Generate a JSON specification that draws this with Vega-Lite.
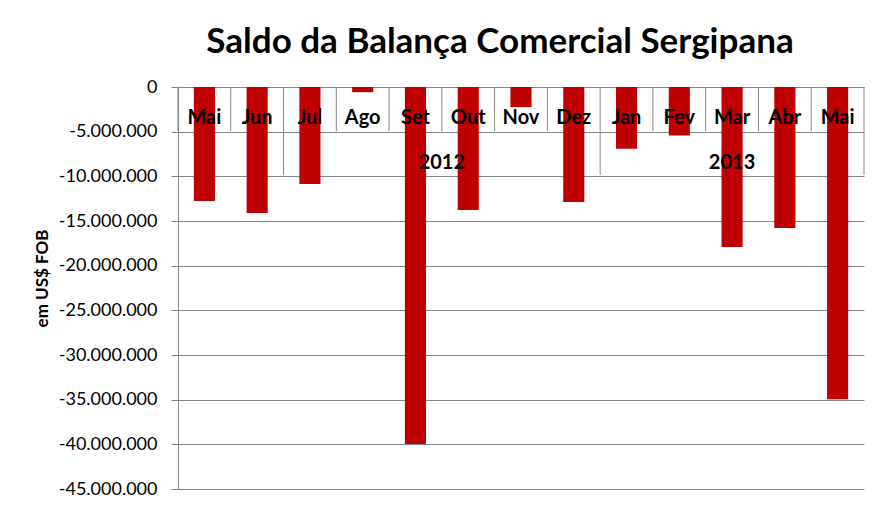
{
  "$schema": "https://vega.github.io/schema/vega-lite/v6.json",
  "width": 686,
  "height": 402,
  "autosize": {"type": "none"},
  "padding": {"left": 178, "top": 87, "right": 24, "bottom": 24},
  "background": "white",
  "config": {
    "view": {"stroke": null},
    "font": "Lato",
    "locale": {"number": {"decimal": ",", "thousands": ".", "grouping": [3], "currency": ["US$", ""], "minus": "-"}}
  },
  "title": {
    "text": "Saldo da Balança Comercial Sergipana",
    "font": "Lato",
    "fontSize": 35,
    "fontWeight": "bold",
    "color": "black",
    "anchor": "middle",
    "frame": "group",
    "baseline": "alphabetic",
    "dx": -21,
    "offset": -10
  },
  "datasets": {
    "months": [
      {"key": "2012-05", "mes": "Mai", "ano": "2012", "saldo": -12760000},
      {"key": "2012-06", "mes": "Jun", "ano": "2012", "saldo": -14100000},
      {"key": "2012-07", "mes": "Jul", "ano": "2012", "saldo": -10850000},
      {"key": "2012-08", "mes": "Ago", "ano": "2012", "saldo": -580000},
      {"key": "2012-09", "mes": "Set", "ano": "2012", "saldo": -39950000},
      {"key": "2012-10", "mes": "Out", "ano": "2012", "saldo": -13770000},
      {"key": "2012-11", "mes": "Nov", "ano": "2012", "saldo": -2250000},
      {"key": "2012-12", "mes": "Dez", "ano": "2012", "saldo": -12870000},
      {"key": "2013-01", "mes": "Jan", "ano": "2013", "saldo": -6900000},
      {"key": "2013-02", "mes": "Fev", "ano": "2013", "saldo": -5420000},
      {"key": "2013-03", "mes": "Mar", "ano": "2013", "saldo": -17900000},
      {"key": "2013-04", "mes": "Abr", "ano": "2013", "saldo": -15780000},
      {"key": "2013-05", "mes": "Mai", "ano": "2013", "saldo": -34950000}
    ],
    "groupStarts": [
      {"key": "2012-07"},
      {"key": "2013-01"}
    ],
    "years": [
      {"key": "2012-10", "ano": "2012"},
      {"key": "2013-03", "ano": "2013"}
    ]
  },
  "encoding": {
    "x": {
      "field": "key",
      "type": "nominal",
      "scale": {
        "domain": ["2012-05", "2012-06", "2012-07", "2012-08", "2012-09", "2012-10", "2012-11", "2012-12", "2013-01", "2013-02", "2013-03", "2013-04", "2013-05"],
        "paddingInner": 0,
        "paddingOuter": 0
      },
      "axis": null
    }
  },
  "layer": [
    {
      "data": {"name": "months"},
      "mark": {"type": "bar", "color": "#C00000", "width": {"band": 0.4}},
      "encoding": {
        "y": {
          "field": "saldo",
          "type": "quantitative",
          "scale": {"domain": [-45000000, 0], "nice": false, "zero": false},
          "axis": {
            "values": [0, -5000000, -10000000, -15000000, -20000000, -25000000, -30000000, -35000000, -40000000, -45000000],
            "format": ",.0f",
            "labelFont": "Lato",
            "labelFontSize": 18,
            "labelColor": "black",
            "labelPadding": 14,
            "gridColor": "#868686",
            "gridOpacity": 1,
            "domainColor": "#868686",
            "tickColor": "#868686",
            "tickSize": 7,
            "title": "em US$ FOB",
            "titleFont": "Lato",
            "titleFontSize": 17,
            "titleFontWeight": "bold",
            "titleColor": "black",
            "titleX": -136,
            "titleY": 191,
            "titleAlign": "center",
            "titleBaseline": "middle",
            "titleAngle": -90
          }
        }
      }
    },
    {
      "data": {"name": "months"},
      "mark": {"type": "rule", "color": "#868686", "strokeWidth": 1},
      "encoding": {
        "x": {"field": "key", "type": "nominal", "bandPosition": 0},
        "y": {"datum": 0, "type": "quantitative"},
        "y2": {"datum": -4950000}
      }
    },
    {
      "data": {"name": "groupStarts"},
      "mark": {"type": "rule", "color": "#868686", "strokeWidth": 1},
      "encoding": {
        "x": {"field": "key", "type": "nominal", "bandPosition": 0},
        "y": {"datum": -4950000, "type": "quantitative"},
        "y2": {"datum": -9850000}
      }
    },
    {
      "data": {"name": "months"},
      "transform": [{"filter": "datum.key == '2013-05'"}],
      "mark": {"type": "rule", "color": "#868686", "strokeWidth": 1},
      "encoding": {
        "x": {"field": "key", "type": "nominal", "bandPosition": 1},
        "y": {"datum": 0, "type": "quantitative"},
        "y2": {"datum": -9850000}
      }
    },
    {
      "data": {"name": "months"},
      "mark": {"type": "text", "font": "Lato", "fontSize": 20, "fontWeight": "bold", "color": "black", "baseline": "middle", "align": "center"},
      "encoding": {
        "x": {"field": "key", "type": "nominal", "bandPosition": 0.5},
        "y": {"datum": -3450000, "type": "quantitative"},
        "text": {"field": "mes"}
      }
    },
    {
      "data": {"name": "years"},
      "transform": [{"filter": "datum.ano == '2012'"}],
      "mark": {"type": "text", "font": "Lato", "fontSize": 20, "fontWeight": "bold", "color": "black", "baseline": "middle", "align": "center"},
      "encoding": {
        "x": {"field": "key", "type": "nominal", "bandPosition": 0},
        "y": {"datum": -8500000, "type": "quantitative"},
        "text": {"field": "ano"}
      }
    },
    {
      "data": {"name": "years"},
      "transform": [{"filter": "datum.ano == '2013'"}],
      "mark": {"type": "text", "font": "Lato", "fontSize": 20, "fontWeight": "bold", "color": "black", "baseline": "middle", "align": "center"},
      "encoding": {
        "x": {"field": "key", "type": "nominal", "bandPosition": 0.5},
        "y": {"datum": -8500000, "type": "quantitative"},
        "text": {"field": "ano"}
      }
    }
  ]
}
